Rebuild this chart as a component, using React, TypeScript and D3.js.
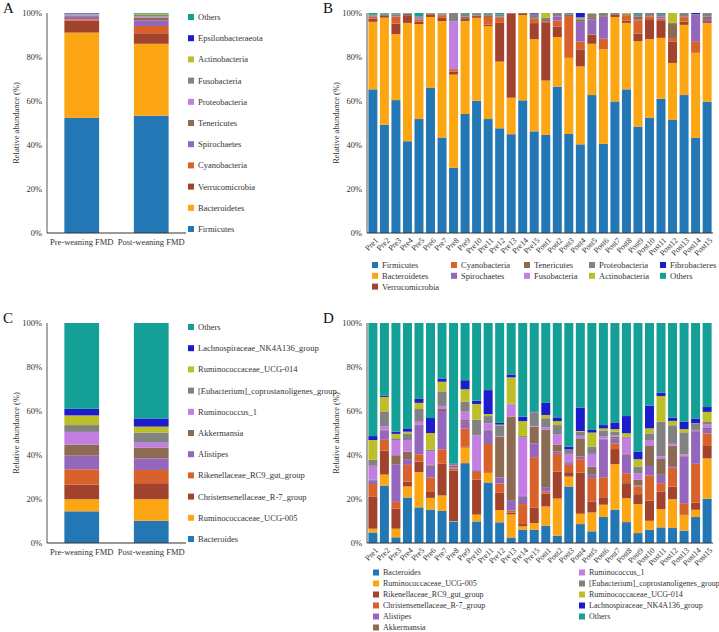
import React from 'react';
import * as d3 from 'd3';

const FONT = '"Liberation Serif", "Times New Roman", serif';

// colour by stack position (bottom -> top)
const palette = ['#2377b4', '#fda613', '#a1432d', '#d9622b', '#9467bd', '#8c6b52', '#c27ee0', '#828282', '#bcbf2a', '#1c1ccc', '#14a096'];

const groups = ['Pre-weaning FMD', 'Post-weaning FMD'];
const samples = ['Pre1', 'Pre2', 'Pre3', 'Pre4', 'Pre5', 'Pre6', 'Pre7', 'Pre8', 'Pre9', 'Pre10', 'Pre11', 'Pre12', 'Pre13', 'Pre14', 'Pre15',
  'Post1', 'Post2', 'Post3', 'Post4', 'Post5', 'Post6', 'Post7', 'Post8', 'Post9', 'Post10', 'Post11', 'Post12', 'Post13', 'Post14', 'Post15'];

// A: phylum level, group means
const phylaA = ['Firmicutes', 'Bacteroidetes', 'Verrucomicrobia', 'Cyanobacteria', 'Spirochaetes', 'Tenericutes', 'Proteobacteria', 'Fusobacteria', 'Actinobacteria', 'Epsilonbacteraeota', 'Others'];
const phylaPre = [52.3, 38.8, 5.4, 0.6, 1.2, 0.4, 0.5, 0.2, 0.1, 0.3, 0.2];
const phylaPost = [53.3, 32.7, 4.8, 3.3, 2.6, 1.3, 0.4, 0.7, 0.5, 0.1, 0.3];

// B: phylum level, per sample
const phylaB = ['Firmicutes', 'Bacteroidetes', 'Verrucomicrobia', 'Cyanobacteria', 'Spirochaetes', 'Tenericutes', 'Fusobacteria', 'Proteobacteria', 'Actinobacteria', 'Fibrobacteres', 'Others'];
const firmicutes = [65.3, 49.2, 60.4, 41.7, 51.8, 65.9, 43.4, 29.6, 54.1, 60.1, 51.8, 47.6, 44.9, 60.3, 46.2, 44.6, 66.5, 45.0, 40.3, 62.7, 40.5, 59.8, 65.3, 48.3, 52.3, 61.0, 51.4, 62.7, 43.2, 59.7];
const bacteroidetes = [30.7, 48.7, 30.0, 53.8, 43.2, 32.3, 52.9, 42.4, 42.3, 37.7, 42.3, 30.3, 16.6, 38.8, 41.9, 24.7, 22.6, 34.6, 35.4, 23.3, 43.0, 38.4, 30.2, 38.9, 35.9, 27.7, 25.9, 31.9, 38.7, 35.8];
const verrucomicrobia = [1.5, 0.8, 4.8, 3.5, 1.0, 1.2, 1.5, 1.3, 1.2, 0.8, 0.6, 17.6, 38.3, 0.5, 7.3, 26.5, 4.8, 0, 7.8, 4.0, 0, 1.2, 1.0, 3.5, 9.0, 8.0, 9.8, 1.5, 0, 0.8];
const cyanobacteria = [0.8, 0, 3.2, 0, 0.8, 0, 1.2, 1.2, 0, 0, 3.5, 2.4, 0, 0, 2.0, 0.5, 2.6, 19.0, 3.5, 0.3, 4.8, 0, 2.5, 6.0, 1.2, 0.8, 1.5, 2.0, 5.3, 0];
const spirochaetes = [0.3, 0, 0.3, 0, 0.3, 0, 0, 0, 0, 0, 0, 0, 0, 0, 0, 0, 2.0, 0, 9.0, 6.8, 10.0, 0, 0, 0.5, 0, 0.8, 0, 0, 12.0, 1.0];
const tenericutes = [0.3, 0.5, 0.5, 0.6, 0.5, 0.3, 0.3, 0, 0.8, 0.3, 0.5, 0.5, 0.2, 0.4, 0, 0.5, 0, 0.6, 1.0, 1.0, 0.7, 0, 0, 1.3, 0.6, 0, 6.8, 0.4, 0, 1.0];
const fusobacteria = [0, 0, 0, 0, 0.2, 0, 0, 21.7, 0, 0, 0, 0, 0, 0, 0, 0, 0, 0, 0, 0, 0, 0, 0, 0, 0, 0, 0, 0, 0, 0];
const proteobacteria = [0.3, 0.5, 0.5, 0.3, 0.6, 0.3, 0.5, 3.8, 1.2, 1.0, 1.0, 1.0, 0, 0, 2.3, 1.0, 1.5, 0.8, 0.6, 1.5, 1.0, 0.6, 0.5, 1.0, 1.0, 1.2, 0.1, 1.5, 0.3, 1.7];
const actinobacteria = [0, 0, 0, 0, 0, 0, 0, 0, 0, 0, 0, 0, 0, 0, 0, 2.2, 0, 0, 0.4, 0.4, 0, 0, 0.5, 0, 0, 0, 4.5, 0, 0, 0];
const fibrobacteres = [0, 0, 0, 0, 0.1, 0, 0, 0, 0, 0, 0, 0, 0, 0, 0.3, 0, 0, 0, 2.0, 0, 0, 0, 0, 0, 0, 0, 0, 0, 0.5, 0];
const othersB = [0.8, 0.3, 0.3, 0.1, 1.5, 0, 0.2, 0, 0.4, 0.1, 0.3, 0.6, 0, 0, 0, 0, 0, 0, 0, 0, 0, 0, 0, 0.5, 0, 0.5, 0, 0, 0, 0];

// C: genus level, group means
const generaC = ['Bacteroides', 'Ruminococcaceae_UCG-005', 'Christensenellaceae_R-7_group', 'Rikenellaceae_RC9_gut_group', 'Alistipes', 'Akkermansia', 'Ruminococcus_1', '[Eubacterium]_coprostanoligenes_group', 'Ruminococcaceae_UCG-014', 'Lachnospiraceae_NK4A136_group', 'Others'];
const generaPre = [14.4, 5.5, 6.7, 6.9, 6.2, 5.0, 5.8, 3.1, 4.4, 3.0, 39.0];
const generaPost = [10.1, 9.8, 7.3, 6.0, 5.2, 5.0, 2.2, 4.6, 2.7, 3.7, 43.4];

// D: genus level, per sample
const generaD = ['Bacteroides', 'Ruminococcaceae_UCG-005', 'Rikenellaceae_RC9_gut_group', 'Christensenellaceae_R-7_group', 'Alistipes', 'Akkermansia', 'Ruminococcus_1', '[Eubacterium]_coprostanoligenes_group', 'Ruminococcaceae_UCG-014', 'Lachnospiraceae_NK4A136_group', 'Others'];
const bacteroides = [4.8, 26.1, 2.6, 20.7, 16.2, 15.2, 14.6, 9.8, 36.3, 9.8, 27.5, 9.4, 2.5, 6.0, 6.0, 7.9, 3.3, 25.7, 8.6, 5.3, 11.8, 15.1, 9.5, 4.5, 6.0, 7.1, 6.8, 5.6, 11.8, 20.1];
const ucg005 = [1.7, 5.0, 3.9, 5.0, 16.0, 5.3, 7.0, 0.2, 7.1, 3.1, 4.5, 5.6, 10.5, 1.6, 3.1, 8.7, 16.9, 4.5, 4.7, 8.6, 5.6, 20.7, 10.9, 13.2, 4.1, 8.3, 13.1, 7.2, 3.3, 18.4];
const rikenellaceae = [14.7, 10.9, 9.2, 2.2, 4.8, 2.7, 14.4, 23.0, 0.5, 15.9, 0.3, 7.8, 0.8, 1.0, 6.9, 5.8, 12.3, 2.0, 18.7, 5.0, 3.4, 6.9, 6.8, 4.5, 9.2, 8.0, 5.7, 0.3, 3.3, 5.6];
const christensenellaceae = [5.6, 4.9, 3.0, 7.6, 3.3, 6.6, 6.6, 0.8, 8.2, 3.5, 12.7, 4.2, 1.0, 9.1, 23.0, 1.0, 8.0, 3.3, 6.1, 10.6, 9.1, 2.6, 4.5, 3.5, 11.4, 3.8, 8.6, 5.0, 17.6, 5.7];
const alistipes = [1.7, 4.3, 17.1, 2.6, 13.3, 5.4, 17.4, 0.6, 3.0, 0.6, 6.1, 2.8, 4.7, 3.4, 6.3, 2.0, 1.0, 0.8, 1.2, 1.5, 17.2, 2.3, 8.5, 0.5, 4.3, 3.8, 0.8, 21.2, 14.6, 2.0];
const akkermansia = [0.3, 0.3, 4.1, 3.4, 0.3, 0.5, 1.2, 0.6, 0.8, 0.3, 0.3, 18.5, 38.0, 0.3, 7.6, 26.0, 3.1, 0.4, 8.3, 3.7, 0.3, 0.7, 0.5, 2.5, 9.1, 7.2, 9.3, 0.3, 0.3, 0.5];
const ruminococcus1 = [6.3, 1.5, 6.9, 5.3, 1.2, 6.0, 1.1, 0.4, 3.8, 15.7, 3.0, 0.2, 5.5, 26.5, 0.3, 1.2, 4.9, 3.8, 1.1, 5.8, 1.2, 0.5, 7.1, 3.0, 2.7, 1.1, 0.8, 0.7, 0.5, 1.5];
const eubacterium = [2.7, 6.6, 0.8, 3.0, 5.8, 0.7, 6.6, 0.6, 4.5, 7.2, 3.3, 5.0, 0.3, 0.7, 6.0, 4.1, 4.1, 1.8, 1.9, 3.3, 2.5, 1.8, 0.5, 2.9, 3.0, 15.8, 8.4, 10.0, 2.7, 1.2];
const ucg014 = [9.0, 6.8, 2.0, 0.8, 2.8, 7.6, 4.4, 0, 5.7, 7.1, 0.9, 0.3, 12.0, 6.8, 0.2, 1.5, 1.8, 0.2, 0.3, 6.4, 1.0, 1.2, 1.6, 3.5, 2.3, 11.7, 2.0, 1.5, 0.3, 4.6];
const lachno = [1.8, 0.6, 1.0, 1.5, 2.0, 6.8, 1.5, 0, 4.1, 1.5, 10.9, 0.8, 1.3, 2.0, 0.4, 5.5, 1.7, 1.3, 10.7, 1.2, 1.5, 3.0, 7.8, 3.5, 10.3, 1.6, 1.5, 3.3, 2.2, 2.2];
const othersD = [51.4, 33.0, 49.4, 47.9, 34.3, 43.2, 25.2, 64.0, 26.0, 35.3, 30.5, 45.4, 23.4, 42.6, 40.2, 36.3, 42.9, 56.2, 38.4, 48.6, 46.4, 45.2, 42.3, 58.4, 37.6, 31.6, 43.0, 44.9, 43.4, 38.2];

const seriesB = [firmicutes, bacteroidetes, verrucomicrobia, cyanobacteria, spirochaetes, tenericutes, fusobacteria, proteobacteria, actinobacteria, fibrobacteres, othersB];
const seriesD = [bacteroides, ucg005, rikenellaceae, christensenellaceae, alistipes, akkermansia, ruminococcus1, eubacterium, ucg014, lachno, othersD];

// rows[category][series]
const byCategory = (series: number[][]) => series[0].map((_, i) => series.map(s => s[i]));

type BarsProps = {
  left: number; right: number; top: number; bottom: number;
  cats: string[]; names: string[]; rows: number[][];
  inner: number; outer: number; rotate?: boolean; letter: string;
};

function StackedBars({ left, right, top, bottom, cats, names, rows, inner, outer, rotate, letter }: BarsProps) {
  const x = d3.scaleBand<string>().domain(cats).range([left, right]).paddingInner(inner).paddingOuter(outer);
  const y = d3.scaleLinear().domain([0, 1]).range([bottom, top]);
  const data = rows.map((r, i) => {
    const o: any = { cat: cats[i] };
    names.forEach((n, j) => (o[n] = r[j]));
    return o;
  });
  const stacked = d3.stack<any>().keys(names).offset(d3.stackOffsetExpand)(data);
  const ticks = [0, 0.2, 0.4, 0.6, 0.8, 1];
  const fmt = d3.format('.0%');
  const bw = x.bandwidth();
  return (
    <g fontFamily={FONT}>
      <text x={left - 44} y={top} fontSize={15} fill="#111">{letter}</text>
      {stacked.map((s, j) => (
        <g key={names[j]} fill={palette[j]}>
          {s.map((d, i) => (
            <rect key={i} x={x(cats[i])} y={y(d[1])} width={bw} height={Math.max(0, y(d[0]) - y(d[1]))} />
          ))}
        </g>
      ))}
      <line x1={left} x2={left} y1={top} y2={bottom} stroke="#555" strokeWidth={1} />
      <line x1={left} x2={right} y1={bottom} y2={bottom} stroke="#333" strokeWidth={1} />
      {ticks.map(t => (
        <text key={t} x={left - 5} y={y(t)} dy="0.32em" textAnchor="end" fontSize={8.5} fill="#333">{fmt(t)}</text>
      ))}
      <text transform={`translate(${left - 28},${(top + bottom) / 2}) rotate(-90)`} textAnchor="middle" fontSize={8.5} fill="#333">
        Relative abundance (%)
      </text>
      {cats.map(c => {
        const cx = (x(c) as number) + bw / 2;
        return rotate ? (
          <text key={c} transform={`translate(${cx + 3},${bottom + 5}) rotate(-45)`} textAnchor="end" dy="0.5em" fontSize={8} fill="#333">{c}</text>
        ) : (
          <text key={c} x={cx} y={bottom + 12} textAnchor="middle" fontSize={8.5} fill="#333">{c}</text>
        );
      })}
    </g>
  );
}

function SideLegend({ x, top, step, names }: { x: number; top: number; step: number; names: string[] }) {
  return (
    <g fontFamily={FONT} fontSize={8.5} fill="#333">
      {names.map((n, j) => {
        const cy = top + (names.length - 1 - j) * step;
        return (
          <g key={n}>
            <rect x={x} y={cy - 3} width={6} height={6} fill={palette[j]} />
            <text x={x + 10} y={cy} dy="0.35em">{n}</text>
          </g>
        );
      })}
    </g>
  );
}

function GridLegend({ cols, top, step, names, size }: { cols: { x: number; items: number[] }[]; top: number; step: number; names: string[]; size: number }) {
  return (
    <g fontFamily={FONT} fontSize={size} fill="#333">
      {cols.map(col =>
        col.items.map((j, r) => (
          <g key={j}>
            <rect x={col.x} y={top + r * step - 3} width={6} height={6} fill={palette[j]} />
            <text x={col.x + 10} y={top + r * step} dy="0.35em">{names[j]}</text>
          </g>
        ))
      )}
    </g>
  );
}

export default function App() {
  const rowsB = byCategory(seriesB);
  const rowsD = byCategory(seriesD);
  return (
    <svg width={719} height={632} style={{ position: 'absolute', left: 0, top: 0, background: '#fff' }}>
      {/* A */}
      <StackedBars left={47} right={186} top={13} bottom={233} cats={groups} names={phylaA} rows={[phylaPre, phylaPost]} inner={0.5} outer={0.25} letter="A" />
      <SideLegend x={188} top={17} step={21.2} names={phylaA} />
      {/* B */}
      <StackedBars left={367} right={713} top={13} bottom={233} cats={samples} names={phylaB} rows={rowsB} inner={0.22} outer={0.12} rotate letter="B" />
      <GridLegend top={265} step={10.8} names={phylaB} size={8.5}
        cols={[{ x: 372, items: [0, 1, 2] }, { x: 451, items: [3, 4] }, { x: 524, items: [5, 6] }, { x: 589, items: [7, 8] }, { x: 660, items: [9, 10] }]} />
      {/* C */}
      <StackedBars left={47} right={186} top={323} bottom={543} cats={groups} names={generaC} rows={[generaPre, generaPost]} inner={0.5} outer={0.25} letter="C" />
      <SideLegend x={188} top={327} step={21.2} names={generaC} />
      {/* D */}
      <StackedBars left={367} right={713} top={323} bottom={543} cats={samples} names={generaD} rows={rowsD} inner={0.22} outer={0.12} rotate letter="D" />
      <GridLegend top={572.5} step={11} names={generaD} size={8}
        cols={[{ x: 373, items: [0, 1, 2, 3, 4, 5] }, { x: 579, items: [6, 7, 8, 9, 10] }]} />
    </svg>
  );
}
